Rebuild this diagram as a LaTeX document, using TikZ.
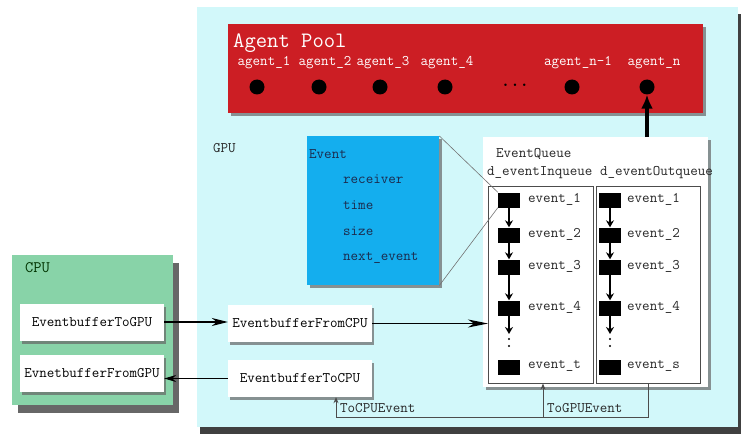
\documentclass[tikz,border=0pt]{standalone}
\usepackage{fontspec}
\usepackage{xcolor}
\usetikzlibrary{arrows.meta,shadows,positioning,calc}
\definecolor{gpucyan}{HTML}{D2F8FA}
\definecolor{poolred}{HTML}{CC1E24}
\definecolor{cpugreen}{HTML}{88D3A8}
\definecolor{eventblue}{HTML}{14AEEE}
\definecolor{inkblue}{HTML}{1C2A4C}

\begin{document}
\begin{tikzpicture}[x=1pt,y=-1pt,font=\ttfamily\fontsize{14.6}{17}\selectfont]
  \tikzset{panel/.style = {anchor=north west, inner sep=0pt}}
  \tikzset{buffer/.style = {fill=white, minimum width=144pt, minimum height=37pt, inner sep=0pt,
      drop shadow={shadow xshift=2pt, shadow yshift=-3pt, fill=black!60, opacity=0.7}}}
  \tikzset{lbl/.style = {anchor=west, inner sep=0pt}}
  \tikzset{evsq/.style = {fill=black, minimum width=22pt, minimum height=15pt, inner sep=0pt}}
  \tikzset{qarrow/.style = {line width=1.2pt, -{Stealth[length=7pt,width=8pt]}}}
  \tikzset{bus/.style = {draw=black!70, line width=0.8pt}}
  \tikzset{flow/.style = {line width=1.2pt, -{Stealth[length=16pt,width=8pt,inset=5pt]}}}

  \useasboundingbox (0,0) rectangle (745,436);

  % panels
  \node[panel, fill=gpucyan, minimum width=541pt, minimum height=420pt,
        drop shadow={shadow xshift=3pt, shadow yshift=-7pt, fill=black!75, opacity=1}] (gpu) at (197,7) {};
  \node[panel, fill=cpugreen, minimum width=161pt, minimum height=150pt,
        drop shadow={shadow xshift=6pt, shadow yshift=-8pt, fill=black!70, opacity=0.85}] (cpu) at (12,255) {};
  \node[panel, fill=poolred, minimum width=475pt, minimum height=89pt,
        drop shadow={shadow xshift=3pt, shadow yshift=-3pt, fill=black!60, opacity=0.7}] (pool) at (228,24) {};
  \node[panel, fill=eventblue, minimum width=132pt, minimum height=149pt,
        drop shadow={shadow xshift=3pt, shadow yshift=-3pt, fill=black!60, opacity=0.7}] (event) at (307,136) {};
  \node[panel, fill=white, minimum width=225pt, minimum height=250pt,
        drop shadow={shadow xshift=3pt, shadow yshift=-3pt, fill=black!60, opacity=0.7}] (queue) at (483,137) {};
  \node[panel, draw=black!70, line width=0.6pt, minimum width=105pt, minimum height=197pt] (inq) at (488,186) {};
  \node[panel, draw=black!70, line width=0.6pt, minimum width=104pt, minimum height=197pt] (outq) at (596,186) {};

  % titles
  \node[lbl, text=black!85] (gpuTitle) at (213,148) {GPU};
  \node[lbl, text=black!80!green, font=\ttfamily\fontsize{16}{18}\selectfont] (cpuTitle) at (25,268) {CPU};
  \node[lbl, text=white, font=\ttfamily\fontsize{22}{25}\selectfont] (poolTitle) at (233,43) {Agent Pool};
  \node[lbl, text=black!85] (queueTitle) at (496,154) {EventQueue};
  \node[lbl, text=black!85] (inTitle) at (487,173) {d\_eventInqueue};
  \node[lbl, text=black!85] (outTitle) at (600,173) {d\_eventOutqueue};

  % agents
  \foreach \i/\name/\lx/\dx in {1/1/264/257, 2/2/325/319, 3/3/383/380, 4/4/447/445, 5/n-1/578/572, 6/n/654/647}
  {
    \node[text=white, inner sep=0pt] (agentlbl\i) at (\lx,63) {agent\_\name};
    \node[circle, fill=black, minimum size=15pt, inner sep=0pt] (dot\i) at (\dx,87) {};
  }
  \node[text=black, inner sep=0pt, font=\ttfamily\bfseries\fontsize{18}{20}\selectfont] (agentdots) at (515,85) {...};

  % event record
  \node[lbl, text=inkblue] (evName) at (309,154) {Event};
  \foreach \f/\y in {receiver/179, time/205, size/231, next\_event/258}
    \node[lbl, text=inkblue] at (343,\y) {\f};

  % queues
  \foreach \r/\y/\t/\s in {1/200/1/1, 2/235/2/2, 3/267/3/3, 4/308/4/4, 5/367/t/s}
  {
    \node[evsq] (in\r) at (509,\y) {};
    \node[lbl, text=black!85] at (528,\y-1) {event\_\t};
    \node[evsq] (out\r) at (610,\y) {};
    \node[lbl, text=black!85] at (627,\y-1) {event\_\s};
  }
  \foreach \r/\n in {1/2, 2/3, 3/4}
  {
    \draw[qarrow] (in\r) -- (in\n);
    \draw[qarrow] (out\r) -- (out\n);
  }
  \coordinate (inEnd) at (509,334);
  \coordinate (outEnd) at (610,334);
  \draw[qarrow] (in4) -- (inEnd);
  \draw[qarrow] (out4) -- (outEnd);
  \foreach \d in {339,346}
  {
    \fill (inEnd) ++(0,\d-334) circle (1.1pt);
    \fill (outEnd) ++(0,\d-334) circle (1.1pt);
  }

  % record to first event
  \draw[black!55, line width=0.6pt] (event.north east) -- (in1.north west);
  \draw[black!55, line width=0.6pt] (event.south east) -- (in1.south west);

  % buffers
  \node[buffer] (toGPU) at (92,322) {EventbufferToGPU};
  \node[buffer] (fromGPU) at (92,373.5) {EvnetbufferFromGPU};
  \node[buffer] (fromCPU) at (300,323.5) {EventbufferFromCPU};
  \node[buffer] (toCPU) at (300,378.5) {EventbufferToCPU};

  % edges
  \draw[flow] (toGPU.east) -- (toGPU.east -| fromCPU.west);
  \draw[flow, -{Stealth[length=12pt,width=7pt,inset=4pt]}] (toCPU.west) -- (toCPU.west -| fromGPU.east);
  \draw[flow, -{Stealth[length=20pt,width=8pt,inset=6pt]}] (fromCPU.east) -- (fromCPU.east -| inq.west);
  \draw[line width=4pt, -{Latex[length=14pt,width=12pt]}] (dot6 |- queue.north) -- (dot6.south);

  \coordinate (busL) at (336,417);
  \coordinate (busM) at (543,417);
  \draw[bus, -{Stealth[length=6pt,width=5pt]}] (outq.south) |- (busL) -- (busL |- toCPU.south);
  \draw[bus, -{Stealth[length=6pt,width=5pt]}] (busM) -- (busM |- inq.south);
  \node[lbl, text=black!85] (toCPUlbl) at (340,408) {ToCPUEvent};
  \node[lbl, text=black!85] (toGPUlbl) at (547,408) {ToGPUEvent};
\end{tikzpicture}
\end{document}
